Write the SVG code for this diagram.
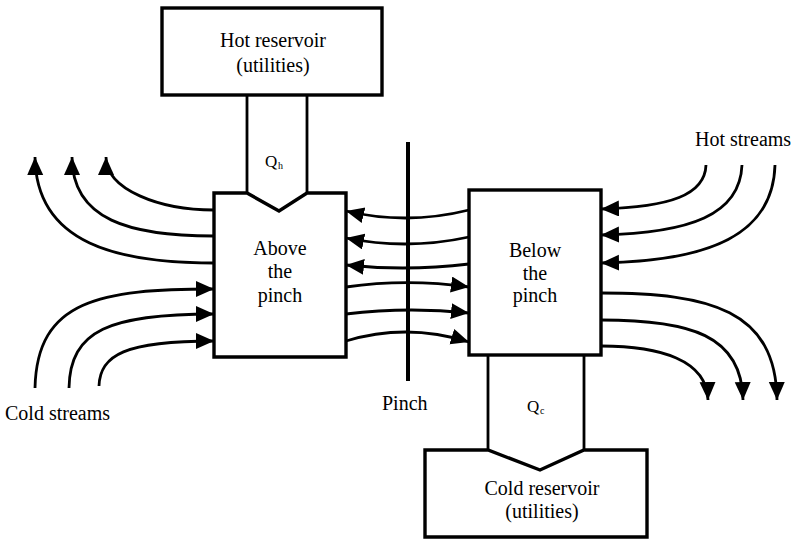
<svg xmlns="http://www.w3.org/2000/svg" width="796" height="541" viewBox="0 0 796 541">
<defs>
<marker id="ah" markerUnits="userSpaceOnUse" markerWidth="19" markerHeight="17" refX="18" refY="8" orient="auto">
<path d="M0,0 L18,8 L0,16 Z" fill="#000"/>
</marker>
<style>
.box{fill:#fff;stroke:#000;stroke-width:3.4;stroke-linejoin:miter}
.ch{fill:none;stroke:#000;stroke-width:2.8}
.s{fill:none;stroke:#000;stroke-width:2.8}
text{font-family:'Liberation Serif','DejaVu Serif','Noto Serif',serif;fill:#000}
</style>
</defs>
<rect width="796" height="541" fill="#fff"/>
<g id="connectors">
<path class="s" marker-end="url(#ah)" d="M214,210 C160,210 106,190 106,157"/>
<path class="s" marker-end="url(#ah)" d="M214,236 C130,236 72,220 72,157"/>
<path class="s" marker-end="url(#ah)" d="M214,263 C120,263 36,245 35,157"/>
<path class="s" marker-end="url(#ah)" d="M35,388 C37,300 100,289 214,289"/>
<path class="s" marker-end="url(#ah)" d="M69,388 C70,330 110,314 214,314"/>
<path class="s" marker-end="url(#ah)" d="M99,386 C100,355 125,341 214,341"/>
<path class="s" marker-end="url(#ah)" d="M706,165 C705,195 670,207 601,209"/>
<path class="s" marker-end="url(#ah)" d="M742,165 C740,215 690,233 601,235"/>
<path class="s" marker-end="url(#ah)" d="M775,165 C773,235 710,261 601,263"/>
<path class="s" marker-end="url(#ah)" d="M601,293 C710,293 776,310 777,400"/>
<path class="s" marker-end="url(#ah)" d="M601,320 C690,320 742,335 743,400"/>
<path class="s" marker-end="url(#ah)" d="M601,346 C660,346 707,360 708,400"/>
<path class="s" marker-end="url(#ah)" d="M469,210 Q407,225.5 346,211"/>
<path class="s" marker-end="url(#ah)" d="M469,237 Q407,250.5 346,238"/>
<path class="s" marker-end="url(#ah)" d="M469,264 Q407,271.5 346,265"/>
<path class="s" marker-end="url(#ah)" d="M346,287 Q407,278.4 469,287"/>
<path class="s" marker-end="url(#ah)" d="M346,314 Q407,306.5 469,313"/>
<path class="s" marker-end="url(#ah)" d="M346,341 Q407,322.5 469,342"/>
</g>
<g id="channels">
<path class="ch" d="M247,95 L247,193 M307,95 L307,193"/>
<path class="ch" d="M488,355 L488,450 M584,355 L584,450"/>
</g>
<g font-size="20">
<g id="pinch">
<line x1="408" y1="142" x2="408" y2="381" stroke="#000" stroke-width="4"/>
<text x="382" y="410">Pinch</text>
</g>
<g id="hot-reservoir">
<rect class="box" x="162" y="8" width="220" height="87"/>
<text x="273" y="47" text-anchor="middle">Hot reservoir</text>
<text x="273" y="72" text-anchor="middle">(utilities)</text>
</g>
<g id="qh">
<text x="265" y="167" font-size="17">Q</text>
<text x="278" y="169" font-size="10">h</text>
</g>
<g id="above-pinch">
<path class="box" d="M214,193 L247,193 L279,211 L307,193 L346,193 L346,357 L214,357 Z"/>
<text x="280" y="255" text-anchor="middle">Above</text>
<text x="280" y="278" text-anchor="middle">the</text>
<text x="280" y="302" text-anchor="middle">pinch</text>
</g>
<g id="below-pinch">
<rect class="box" x="469" y="190" width="132" height="165"/>
<text x="535" y="257" text-anchor="middle">Below</text>
<text x="535" y="280" text-anchor="middle">the</text>
<text x="535" y="302" text-anchor="middle">pinch</text>
</g>
<g id="qc">
<text x="527" y="412" font-size="17">Q</text>
<text x="540" y="414" font-size="10">c</text>
</g>
<g id="cold-reservoir">
<path class="box" d="M425,450 L488,450 L540,470 L584,450 L647,450 L647,537 L425,537 Z"/>
<text x="542" y="495" text-anchor="middle">Cold reservoir</text>
<text x="542" y="518" text-anchor="middle">(utilities)</text>
</g>
<g id="labels">
<text x="5" y="420">Cold streams</text>
<text x="695" y="146">Hot streams</text>
</g>
</g>
</svg>
